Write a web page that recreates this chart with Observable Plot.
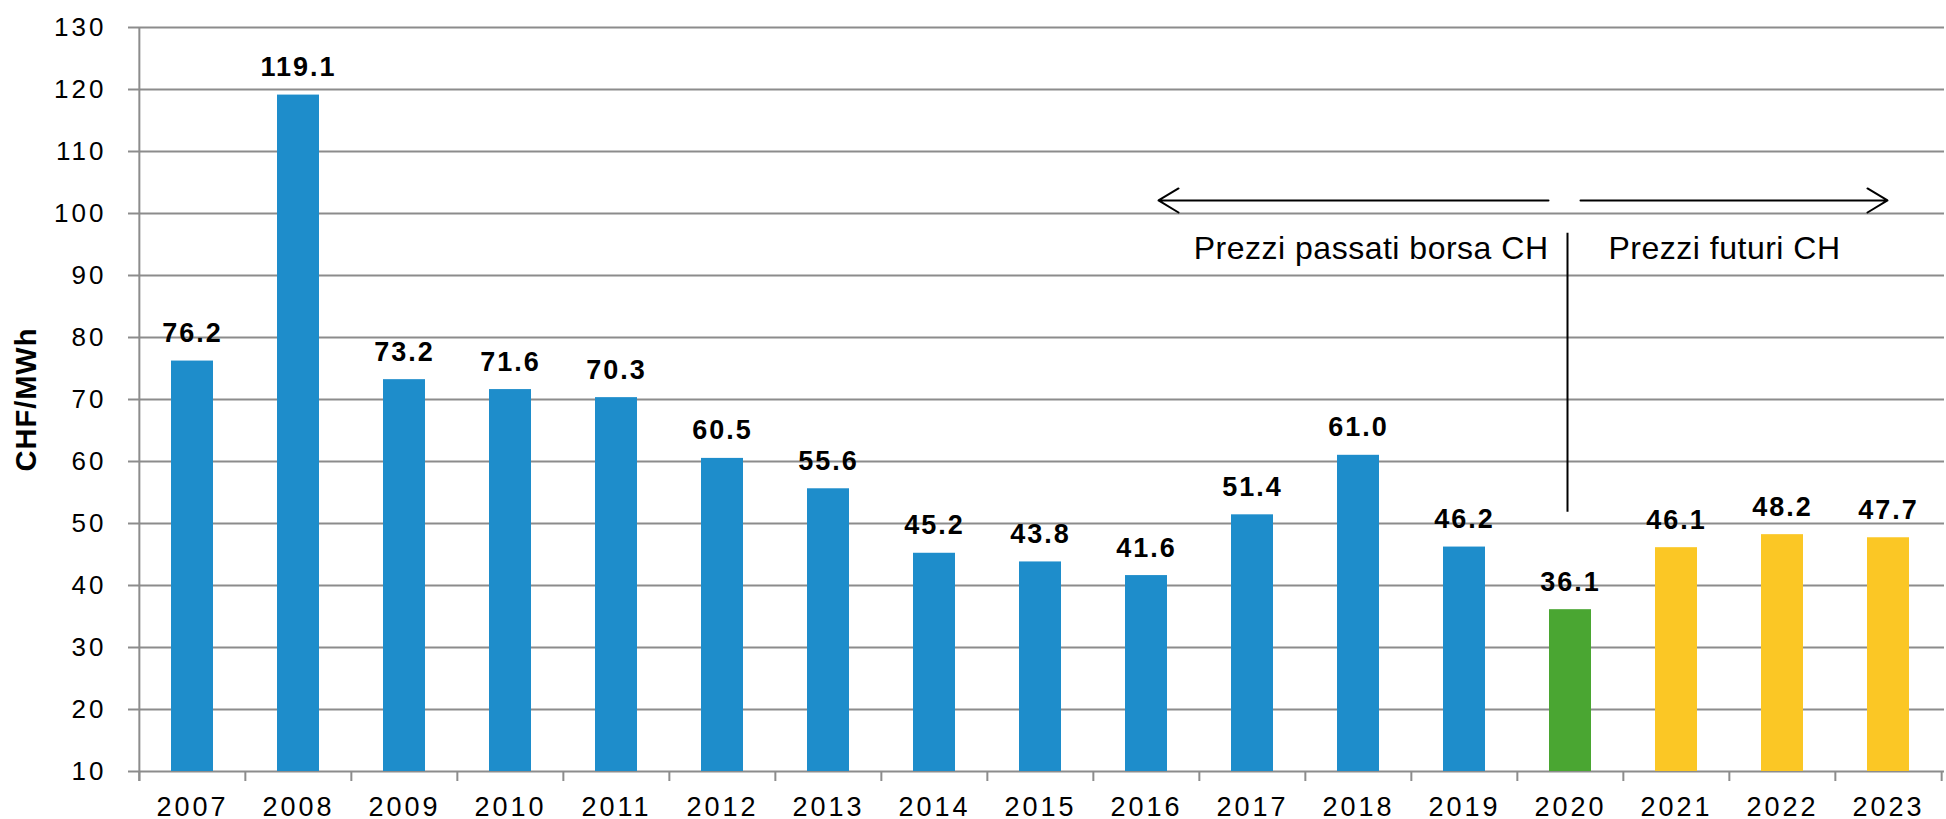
<!DOCTYPE html>
<html>
<head>
<meta charset="utf-8">
<script src="https://cdn.jsdelivr.net/npm/d3@7"></script>
<script src="https://cdn.jsdelivr.net/npm/@observablehq/plot@0.6"></script>
<style>
  html, body { margin: 0; padding: 0; background: #fff; }
  #chart svg { display: block; }
  .ytick text { letter-spacing: 3px; }
  .xtick text { letter-spacing: 3px; }
  .vlab text { letter-spacing: 2px; }
  .ann text { letter-spacing: 0.5px; }
  .ylab text { letter-spacing: 1px; }
</style>
</head>
<body>
<div id="chart"></div>
<script>
// ---- data ----
const years = ["2007","2008","2009","2010","2011","2012","2013","2014","2015","2016","2017","2018","2019","2020","2021","2022","2023"];
const prices = [76.2, 119.1, 73.2, 71.6, 70.3, 60.5, 55.6, 45.2, 43.8, 41.6, 51.4, 61.0, 46.2, 36.1, 46.1, 48.2, 47.7];
const kinds = ["passato","passato","passato","passato","passato","passato","passato","passato","passato","passato","passato","passato","passato","attuale","futuro","futuro","futuro"];
const yTicks = [10, 20, 30, 40, 50, 60, 70, 80, 90, 100, 110, 120, 130];
const yLabel = "CHF/MWh";
const pastLabel = "Prezzi passati borsa CH";
const futureLabel = "Prezzi futuri CH";

const data = years.map((year, i) => ({year, value: prices[i], kind: kinds[i]}));

// ---- layout ----
const W = 1946, H = 819;
const mL = 137, mR = 2, mT = 27, mB = 48;
const step = (W - mL - mR) / years.length;
const gray = "#8c8c8c";
const yMin = yTicks[0], yMax = yTicks[yTicks.length - 1];
const yMid = (yMin + yMax) / 2;

const chart = Plot.plot({
  width: W,
  height: H,
  marginLeft: mL,
  marginRight: mR,
  marginTop: mT,
  marginBottom: mB,
  style: {fontFamily: "'Liberation Sans', Arial, sans-serif", fontSize: "26px", color: "#000", background: "#fff", overflow: "visible"},
  x: {domain: years, paddingInner: 0.6, paddingOuter: 0.3},
  y: {domain: [yMin, yMax]},
  color: {domain: ["passato", "attuale", "futuro"], range: ["#1e8dcb", "#4aa632", "#fbc725"]},
  marks: [
    Plot.gridY(yTicks, {stroke: gray, strokeOpacity: 1, strokeWidth: 2}),
    Plot.axisY(yTicks, {tickSize: 9, tickPadding: 22, stroke: gray, strokeWidth: 2, fontSize: 26, label: null, tickFormat: d => String(d), className: "ytick"}),
    Plot.axisX({tickSize: 0, tickPadding: 25, fontSize: 27, label: null, className: "xtick"}),
    // category boundary ticks below the axis
    Plot.ruleX(years, {x: d => d, dx: -step / 2, y1: () => yMin, y2: () => yMin, insetBottom: -10, stroke: gray, strokeWidth: 2}),
    Plot.ruleX([years[years.length - 1]], {x: d => d, dx: step / 2, y1: () => yMin, y2: () => yMin, insetBottom: -10, stroke: gray, strokeWidth: 2}),
    // y axis line
    Plot.ruleX([years[0]], {x: d => d, dx: -step / 2, y1: () => yMax, y2: () => yMin, insetBottom: -10, stroke: gray, strokeWidth: 2}),
    Plot.barY(data, {x: "year", y1: () => yMin, y2: "value", fill: "kind"}),
    Plot.text(data, {x: "year", y: "value", text: d => d.value.toFixed(1), dy: -19, lineAnchor: "bottom", fontWeight: "bold", fontSize: 27, fill: "#000", className: "vlab"}),
    // annotation
    Plot.arrow([{a: "2020", b: "2016", y: 102.1}], {x1: "a", x2: "b", y1: "y", y2: "y", insetStart: 22, insetEnd: 12, stroke: "#000", strokeWidth: 2, headLength: 17.5, headAngle: 62}),
    Plot.arrow([{a: "2020", b: "2023", y: 102.1}], {x1: "a", x2: "b", y1: "y", y2: "y", insetStart: 10, insetEnd: 1, stroke: "#000", strokeWidth: 2, headLength: 17.5, headAngle: 62}),
    Plot.ruleX([{x: "2020", top: 96.8, bottom: 51.8}], {x: "x", y1: "top", y2: "bottom", dx: -3, stroke: "#000", strokeWidth: 2}),
    Plot.text([{x: "2020", y: 92.7, t: pastLabel}], {x: "x", y: "y", text: "t", dx: -22, textAnchor: "end", lineAnchor: "bottom", fontSize: 32, fill: "#000", className: "ann"}),
    Plot.text([{x: "2020", y: 92.7, t: futureLabel}], {x: "x", y: "y", text: "t", dx: 38, textAnchor: "start", lineAnchor: "bottom", fontSize: 32, fill: "#000", className: "ann"}),
    // y label
    Plot.text([yLabel], {frameAnchor: "left", y: () => yMid, dx: -111, rotate: -90, textAnchor: "middle", lineAnchor: "middle", text: d => d, fontWeight: "bold", fontSize: 29, fill: "#000", className: "ylab"})
  ]
});
document.getElementById("chart").appendChild(chart);
</script>
</body>
</html>
